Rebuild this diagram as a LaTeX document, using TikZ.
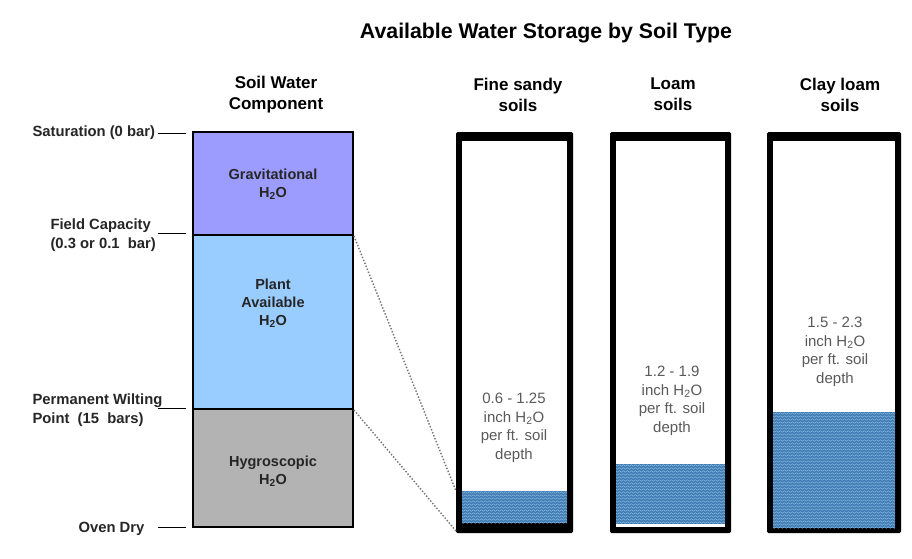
\documentclass[tikz,border=0pt]{standalone}
\usepackage{fontspec}
\setmainfont{Liberation Sans}
\usetikzlibrary{decorations.pathmorphing}
\definecolor{grav}{HTML}{9C9CFF}
\definecolor{plant}{HTML}{99CCFF}
\definecolor{hygro}{HTML}{B3B3B3}
\definecolor{water}{HTML}{3F7DB4}
\definecolor{wave}{HTML}{8EBBE0}
\definecolor{soiltext}{HTML}{5A5A5A}
\begin{document}
\begin{tikzpicture}[x=1pt,y=-1pt,
  titletext/.style={font=\bfseries\fontsize{21.3}{24}\selectfont},
  headtext/.style={font=\bfseries\fontsize{17}{21}\selectfont, align=center},
  compbox/.style={draw=black, line width=2.5pt},
  comptext/.style={font=\bfseries\fontsize{14.5}{18}\selectfont, align=center, text=black!85},
  leveltext/.style={font=\bfseries\fontsize{14.8}{19}\selectfont, align=left, anchor=west, text=black!85},
  soiltxt/.style={font=\fontsize{15}{18.5}\selectfont, align=center, text=soiltext},
  leader/.style={draw=black, line width=0.9pt},
  guide/.style={draw=black!55, line width=1.4pt, dash pattern=on 1.4pt off 1.8pt},
  wavy/.style={draw=wave, line width=0.5pt, decorate, decoration={snake, segment length=4pt, amplitude=0.8pt}}
]
\useasboundingbox (0,0) rectangle (912,558);
\fill[white] (0,0) rectangle (912,558);

% title and headers
\node[titletext] (title) at (546,33) {Available Water Storage by Soil Type};
\node[headtext] (hcomp) at (276,94.5) {Soil Water\\Component};
\node[headtext] (hsand) at (518,94.5) {Fine sandy\\soils};
\node[headtext] (hloam) at (673,94.5) {Loam\\soils};
\node[headtext] (hclay) at (840,94.5) {Clay loam\\soils};

% soil water component column
\filldraw[compbox, fill=grav] (193,132) rectangle (353,235);
\filldraw[compbox, fill=plant] (193,235) rectangle (353,409);
\filldraw[compbox, fill=hygro] (193,409) rectangle (353,527);
\node[comptext] (tgrav) at (273,184) {Gravitational\\H\textsubscript{2}O};
\node[comptext] (tplant) at (273,303) {Plant\\Available\\H\textsubscript{2}O};
\node[comptext] (thygro) at (273,471) {Hygroscopic\\H\textsubscript{2}O};

% level labels and leaders
\node[leveltext] (lsat) at (29,133) {Saturation (0 bar)};
\node[leveltext] (lfc) at (47,235) {Field Capacity\\(0.3 or 0.1~~bar)};
\node[leveltext] (lpwp) at (29,410) {Permanent Wilting\\Point~~(15~~bars)};
\node[leveltext] (lod) at (75,529) {Oven Dry};
\coordinate (a1) at (158,133); \coordinate (b1) at (186,133);
\coordinate (a2) at (158,233); \coordinate (b2) at (186,233);
\coordinate (a3) at (158,408); \coordinate (b3) at (186,408);
\coordinate (a4) at (158,527); \coordinate (b4) at (186,527);
\draw[leader] (a1) -- (b1);
\draw[leader] (a2) -- (b2);
\draw[leader] (a3) -- (b3);
\draw[leader] (a4) -- (b4);

% soil containers
% fine sandy
\fill[black, rounded corners=1.5pt] (456,132) rectangle (573,533);
\fill[white] (462,141) rectangle (567,523);
\begin{scope}
  \clip (462,491) rectangle (567,523);
  \fill[water] (462,491) rectangle (567,523);
  \foreach \yy in {492.5,495.5,...,523} \draw[wavy] (460,\yy) -- (570,\yy);
\end{scope}
% loam
\fill[black, rounded corners=1.5pt] (610,132) rectangle (731,533);
\fill[white] (616,141) rectangle (725,527);
\begin{scope}
  \clip (616,464) rectangle (725,524);
  \fill[water] (616,464) rectangle (725,524);
  \foreach \yy in {465.5,468.5,...,524} \draw[wavy] (614,\yy) -- (728,\yy);
\end{scope}
% clay loam
\fill[black, rounded corners=1.5pt] (767,132) rectangle (901,533);
\fill[white] (773,141) rectangle (895,528);
\begin{scope}
  \clip (773,412) rectangle (895,528);
  \fill[water] (773,412) rectangle (895,528);
  \foreach \yy in {413.5,416.5,...,528} \draw[wavy] (771,\yy) -- (898,\yy);
\end{scope}

\node[soiltxt] (tsand) at (514,428) {0.6 - 1.25\\inch H\textsubscript{2}O\\per ft. soil\\depth};
\node[soiltxt] (tloam) at (672,401) {1.2 - 1.9\\inch H\textsubscript{2}O\\per ft. soil\\depth};
\node[soiltxt] (tclay) at (835,352) {1.5 - 2.3\\inch H\textsubscript{2}O\\per ft. soil\\depth};

% dotted guides
\coordinate (g1a) at (354,236); \coordinate (g1b) at (456,491);
\coordinate (g2a) at (354,410); \coordinate (g2b) at (456,531);
\draw[guide] (g1a) -- (g1b);
\draw[guide] (g2a) -- (g2b);
\end{tikzpicture}
\end{document}
